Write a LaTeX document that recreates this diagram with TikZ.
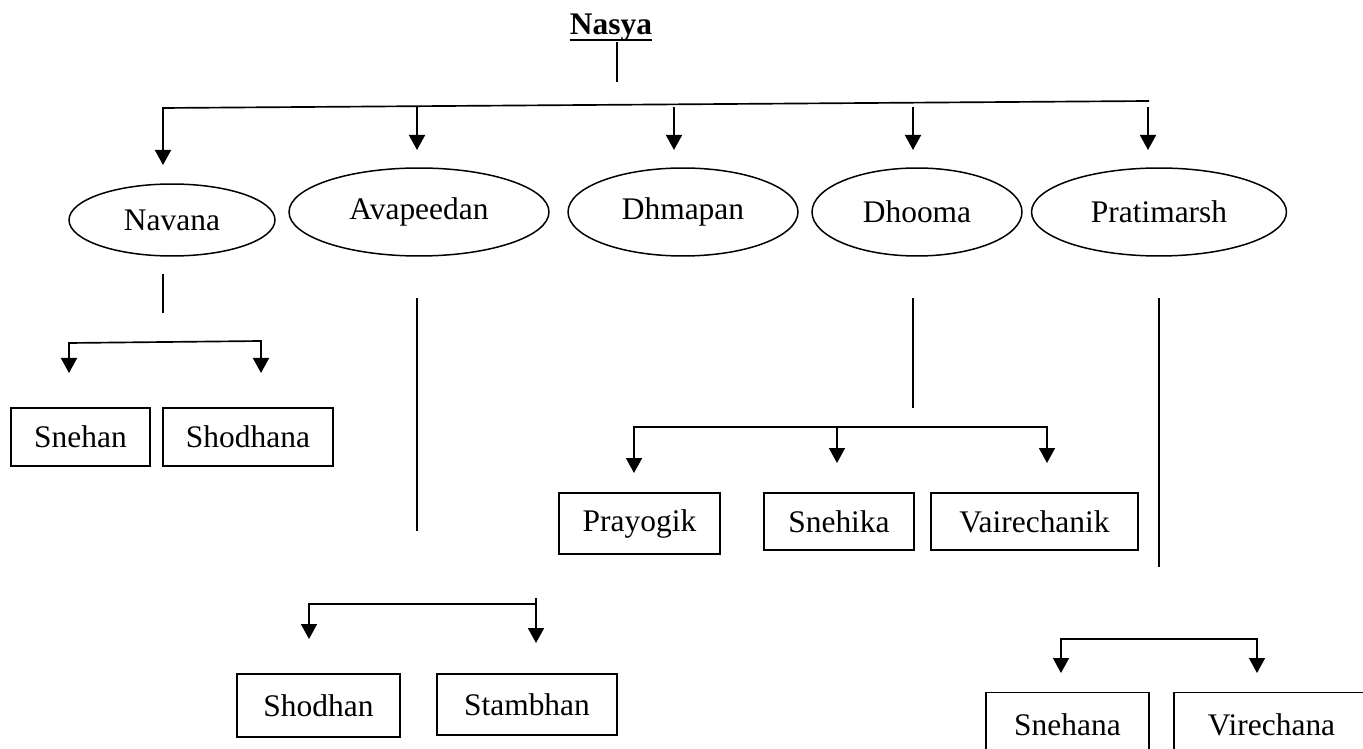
\documentclass[tikz,border=0pt]{standalone}
\usepackage{fontspec}
\setmainfont{Liberation Serif}
\usetikzlibrary{shapes.geometric,arrows.meta}

\begin{document}
\begin{tikzpicture}[x=0.02cm,y=-0.02cm,
        font=\fontsize{17.9}{21}\selectfont,
        oval/.style={draw,ellipse,line width=0.85pt,inner sep=0pt,minimum height=1.76cm},
        box/.style={draw,rectangle,line width=0.75pt,inner sep=0pt},
        stem/.style={line width=0.75pt},
        bus/.style={line width=0.95pt},
        arr/.style={line width=0.95pt,-{Triangle[length=0.3cm,width=0.32cm]}},
        arrs/.style={line width=0.95pt,{Triangle[length=0.3cm,width=0.32cm]}-{Triangle[length=0.3cm,width=0.32cm]}}]
        \useasboundingbox (0,0) rectangle (1363,749);
        \clip (0,0) rectangle (1363,749);

        % heading
        \node[anchor=base,inner sep=0pt] (nasya) at (611,35) {\textbf{Nasya}};
        \draw[line width=1.6pt] ([yshift=-0.1cm]nasya.base west) -- ([yshift=-0.1cm]nasya.base east);
        \coordinate (nasya-s1) at (617,42);
        \coordinate (nasya-s2) at (617,82);
        \draw[stem] (nasya-s1) -- (nasya-s2);

        % main bus
        \coordinate (busL) at (163,108);
        \coordinate (busR) at (1149,101);
        \coordinate (navana-tip) at (163,165);
        \draw[arr] (busR) -- (busL) -- (navana-tip);
        \foreach \n/\x in {avap/417,dhma/674,dhoo/913,prat/1148}{
            \coordinate (\n-in) at (\x,107);
            \coordinate (\n-tip) at (\x,150);
            \draw[arr] (\n-in) -- (\n-tip);
        }

        % second row
        \node[oval,minimum width=4.12cm,minimum height=1.44cm] (navana) at (172,220) {Navana};
        \node[oval,minimum width=5.2cm] (avap) at (419,212) {Avapeedan};
        \node[oval,minimum width=4.6cm] (dhma) at (683,212) {Dhmapan};
        \node[oval,minimum width=4.2cm] (dhoo) at (917,212) {Dhooma};
        \node[oval,minimum width=5.1cm] (prat) at (1159,212) {Pratimarsh};

        % stems under the ovals
        \foreach \n/\x/\a/\b in {navana/163/274/313,avap/417/298/531,dhoo/913/298/408,prat/1159/298/567}{
            \coordinate (\n-s1) at (\x,\a);
            \coordinate (\n-s2) at (\x,\b);
            \draw[stem] (\n-s1) -- (\n-s2);
        }

        % Navana
        \coordinate (nvL) at (69,343);
        \coordinate (nvR) at (261,341);
        \draw[arrs] (69,373) -- (nvL) -- (nvR) -- (261,373);
        \node[box,minimum width=2.78cm,minimum height=1.16cm] (snehan) at (80.5,437) {Snehan};
        \node[box,minimum width=3.4cm,minimum height=1.16cm] (shodhana) at (248,437) {Shodhana};

        % Avapeedan
        \coordinate (avL) at (309,604);
        \coordinate (avR) at (536,604);
        \coordinate (avR-top) at (536,598);
        \draw[arrs,{Triangle[length=0.3cm,width=0.32cm]}-] (309,639) -- (avL) -- (avR);
        \draw[arr] (avR-top) -- (536,643);
        \node[box,minimum width=3.26cm,minimum height=1.26cm] (shodhan) at (318.5,705.5) {Shodhan};
        \node[box,minimum width=3.6cm,minimum height=1.22cm] (stambhan) at (527,704.5) {Stambhan};

        % Dhooma
        \coordinate (dhL) at (634,427);
        \coordinate (dhR) at (1047,427);
        \coordinate (dhM) at (837,427);
        \draw[arrs] (634,473) -- (dhL) -- (dhR) -- (1047,463);
        \draw[arr] (dhM) -- (837,463);
        \node[box,minimum width=3.22cm,minimum height=1.22cm] (prayogik) at (639.5,523.5) {Prayogik};
        \node[box,minimum width=3.0cm,minimum height=1.14cm] (snehika) at (839,521.5) {Snehika};
        \node[box,minimum width=4.14cm,minimum height=1.14cm] (vairechanik) at (1034.5,521.5) {Vairechanik};

        % Pratimarsh
        \coordinate (prL) at (1061,639);
        \coordinate (prR) at (1257,639);
        \draw[arrs] (1061,673) -- (prL) -- (prR) -- (1257,673);
        \node[box,minimum width=3.26cm,minimum height=1.3cm] (snehana) at (1067.5,725) {Snehana};
        \node[box,minimum width=3.9cm,minimum height=1.3cm] (virechana) at (1271.5,725) {Virechana};
\end{tikzpicture}
\end{document}
